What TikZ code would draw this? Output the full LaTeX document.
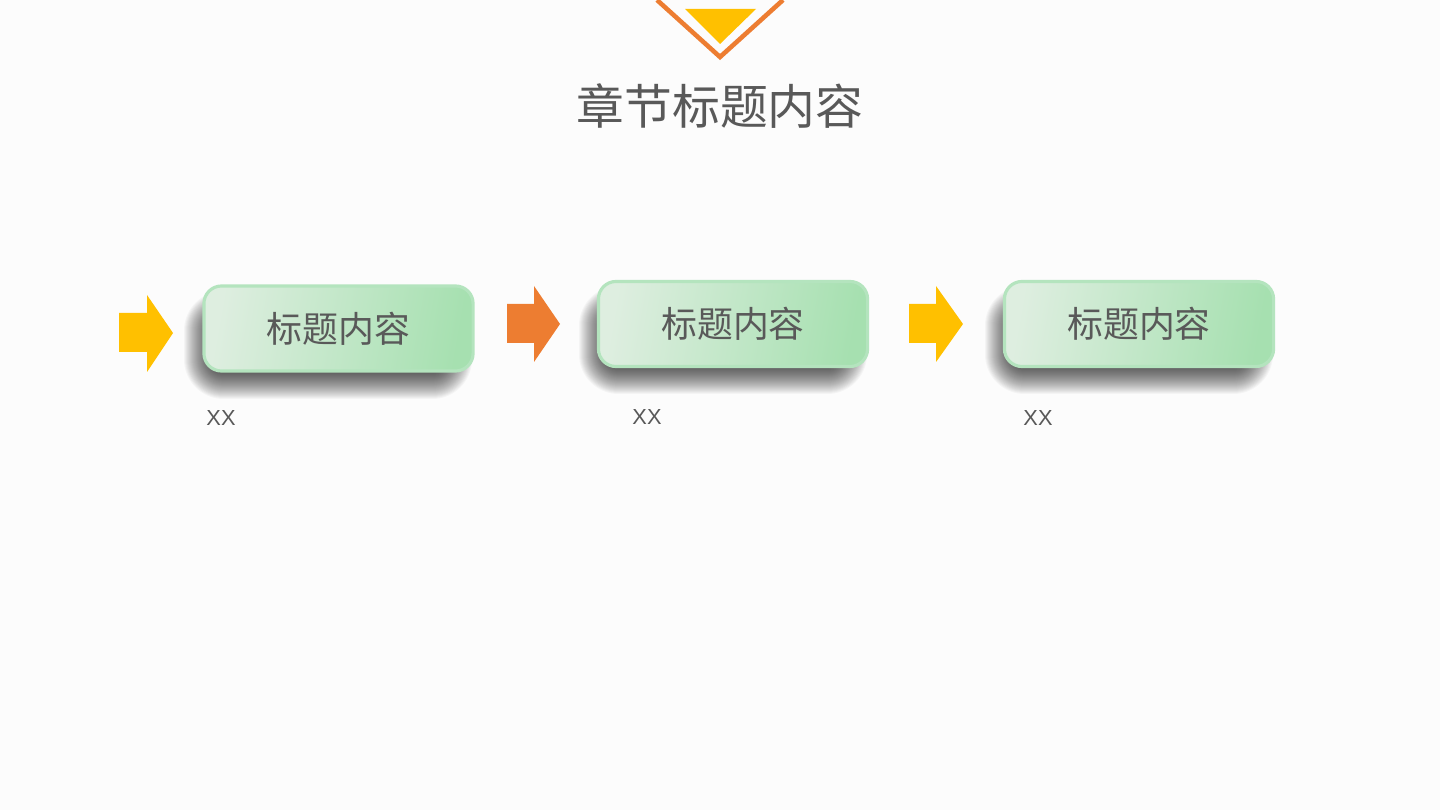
\documentclass[tikz,border=0pt]{standalone}
\usepackage{fontspec}
\setmainfont{Liberation Sans}
\newfontfamily\cjk{Noto Sans CJK SC}
\usetikzlibrary{positioning}
\definecolor{pagebg}{RGB}{252,252,252}
\definecolor{textgray}{RGB}{89,89,89}
\definecolor{gold}{RGB}{255,192,0}
\definecolor{tangerine}{RGB}{237,125,49}
\definecolor{mint}{RGB}{166,224,176}
\definecolor{mintpale}{RGB}{222,238,224}
\definecolor{mintwhite}{RGB}{236,242,238}
\definecolor{mintedge}{RGB}{180,228,190}

\tikzset{
  stagebox/.style={rounded corners=5pt,draw=mintedge,line width=0.9pt,
    left color=mintpale,middle color=mintwhite,right color=mint,shading angle=80,
    minimum width=2.69cm,minimum height=0.85cm,inner sep=0pt,
    font=\cjk\fontsize{10.2pt}{12pt}\selectfont,text=textgray},
  stagenote/.style={font=\fontsize{6.2pt}{7pt}\selectfont,text=textgray}
}

\newcommand{\boxshade}[2]{%
  \foreach \r [evaluate=\r as \rc using \r*0.28+4] in {26,25,...,0}
    \fill[black,opacity=0.03,rounded corners=\rc pt]
      (#1-128-\r,#2-12-\r) rectangle (#1+108+\r,#2+44+\r);
}

\begin{document}
\begin{tikzpicture}[x=0.01cm,y=-0.01cm]
        \fill[pagebg] (0,0) rectangle (1440,810);
        \useasboundingbox (0,0) rectangle (1440,810);

        % top mark
        \draw[tangerine,line width=1.3pt] (657,0) -- (720,57) -- (783,0);
        \fill[gold] (685,9) -- (756,9) -- (720,44) -- cycle;
        \node[font=\cjk\fontsize{13.6pt}{16pt}\selectfont,text=textgray] (title) at (720,106) {章节标题内容};

        % shadows
        \boxshade{338}{329}
        \boxshade{733}{324}
        \boxshade{1139}{324}

        % stages
        \node[stagebox] (stage1) at (338.5,328.5) {标题内容};
        \node[stagebox] (stage2) at (733,324) {标题内容};
        \node[stagebox] (stage3) at (1139,324) {标题内容};

        % arrows
        \fill[gold] (119,313) -- (147,313) -- (147,295) -- (173,333) -- (147,372) -- (147,352) -- (119,352) -- cycle;
        \fill[tangerine] (507,304) -- (534,304) -- (534,286) -- (560,324) -- (534,362) -- (534,343) -- (507,343) -- cycle;
        \fill[gold] (909,304) -- (936,304) -- (936,286) -- (963,324) -- (936,362) -- (936,343) -- (909,343) -- cycle;

        \node[stagenote] (note1) at (221,418) {XX};
        \node[stagenote] (note2) at (647,417) {XX};
        \node[stagenote] (note3) at (1038,418) {XX};
      \end{tikzpicture}
\end{document}
